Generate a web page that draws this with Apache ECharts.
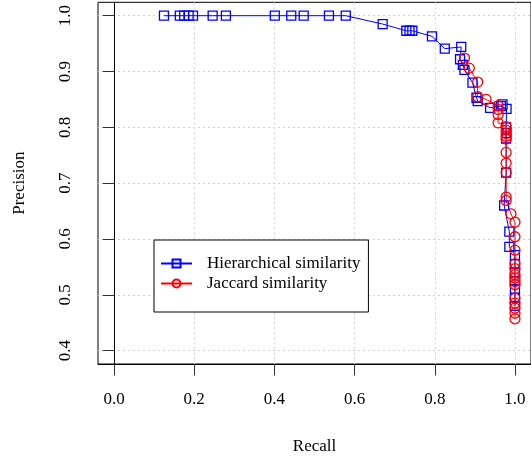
<!DOCTYPE html>
<html><head><meta charset="utf-8">
<script src="https://cdn.jsdelivr.net/npm/echarts@6/dist/echarts.min.js"></script>
<style>html,body{margin:0;padding:0;background:#fff}#c{width:531px;height:460px}</style>
</head><body><div id="c"></div>
<script>
const xTicks = [0.0, 0.2, 0.4, 0.6, 0.8, 1.0];
const yTicks = [0.4, 0.5, 0.6, 0.7, 0.8, 0.9, 1.0];

const hierRecall = [0.1245,0.164,0.175,0.186,0.197,0.246,0.279,0.401,0.442,0.473,0.536,0.578,
  0.670,0.729,0.737,0.744,0.793,0.825,0.866,0.863,0.870,0.874,0.894,0.904,0.907,0.938,0.965,0.969,0.979,
  0.978,0.978,0.978,0.978,0.973,0.986,0.986,1.0,1.0,1.0,1.0,1.0,1.0,1.0];
const hierPrecision = [1.0,1.0,1.0,1.0,1.0,1.0,1.0,1.0,1.0,1.0,1.0,1.0,
  0.985,0.973,0.973,0.973,0.963,0.941,0.944,0.922,0.912,0.903,0.880,0.853,0.847,0.835,0.838,0.841,0.833,
  0.800,0.790,0.780,0.719,0.660,0.613,0.586,0.571,0.555,0.540,0.525,0.510,0.495,0.480];

const jacRecall = [0.874,0.886,0.907,0.907,0.928,0.958,0.958,0.958,0.958,0.978,0.978,0.978,0.978,0.978,
  0.978,0.978,0.978,0.978,0.978,0.990,1.0,1.0,1.0,1.0,1.0,1.0,1.0,1.0,1.0,1.0,1.0,1.0,1.0,1.0];
const jacPrecision = [0.924,0.906,0.881,0.855,0.850,0.839,0.832,0.823,0.808,0.801,0.795,0.789,0.784,0.779,
  0.755,0.736,0.719,0.675,0.669,0.645,0.630,0.604,0.580,0.556,0.547,0.536,0.530,0.524,0.518,0.494,0.485,0.476,0.467,0.457];

const seriesNames = ['Hierarchical similarity', 'Jaccard similarity'];

const zip = (a, b) => a.map((v, i) => [v, b[i]]);
const FONT = 'Liberation Serif';

const chart = echarts.init(document.getElementById('c'), null, {renderer: 'canvas'});
chart.setOption({
  animation: false,
  backgroundColor: '#fff',
  grid: {left: 98, top: 2.3, width: 433.8, height: 364, show: true, borderColor: '#000', borderWidth: 1, backgroundColor: 'transparent', containLabel: false},
  xAxis: {
    type: 'value', min: -0.04, max: 1.04,
    name: 'Recall', nameLocation: 'middle', nameGap: 74,
    nameTextStyle: {fontFamily: FONT, fontSize: 17, color: '#000'},
    axisLine: {show: true, lineStyle: {color: '#000', width: 1}},
    axisTick: {show: true, length: 11.5, customValues: xTicks, lineStyle: {color: '#333', width: 1}},
    axisLabel: {customValues: xTicks, margin: 27, fontFamily: FONT, fontSize: 17, color: '#000',
      formatter: v => v.toFixed(1)},
    splitLine: {show: true, lineStyle: {color: '#d3d3d3', width: 1, type: [2, 3]}}
  },
  yAxis: {
    type: 'value', min: 0.376, max: 1.024,
    name: 'Precision', nameLocation: 'middle', nameGap: 70,
    nameTextStyle: {fontFamily: FONT, fontSize: 17, color: '#000'},
    axisLine: {show: true, lineStyle: {color: '#000', width: 1}},
    axisTick: {show: true, length: 11.5, customValues: yTicks, lineStyle: {color: '#333', width: 1}},
    axisLabel: {customValues: yTicks, rotate: 90, margin: 24, fontFamily: FONT, fontSize: 17, color: '#000',
      formatter: v => v.toFixed(1)},
    splitLine: {show: true, lineStyle: {color: '#d3d3d3', width: 1, type: [2, 3]}}
  },
  legend: {
    orient: 'vertical', left: 154, top: 240,
    padding: [15, 8, 20, 6], itemGap: 3, itemWidth: 31, itemHeight: 10,
    borderColor: '#000', borderWidth: 1, backgroundColor: '#fff', borderRadius: 0,
    textStyle: {fontFamily: FONT, fontSize: 17, color: '#000', padding: [0, 0, 0, 10]},
    data: seriesNames
  },
  series: [
    {name: seriesNames[0], type: 'line', data: zip(hierRecall, hierPrecision),
     symbol: 'rect', symbolSize: 9, showAllSymbol: true,
     lineStyle: {color: '#0000ff', width: 1}, itemStyle: {color: 'rgba(0,0,0,0)', borderColor: '#0000ff', borderWidth: 1.3}},
    {name: seriesNames[1], type: 'line', data: zip(jacRecall, jacPrecision),
     symbol: 'circle', symbolSize: 10, showAllSymbol: true,
     lineStyle: {color: '#ff0000', width: 1}, itemStyle: {color: 'rgba(0,0,0,0)', borderColor: '#ff0000', borderWidth: 1.3}}
  ]
});
</script>
</body></html>
